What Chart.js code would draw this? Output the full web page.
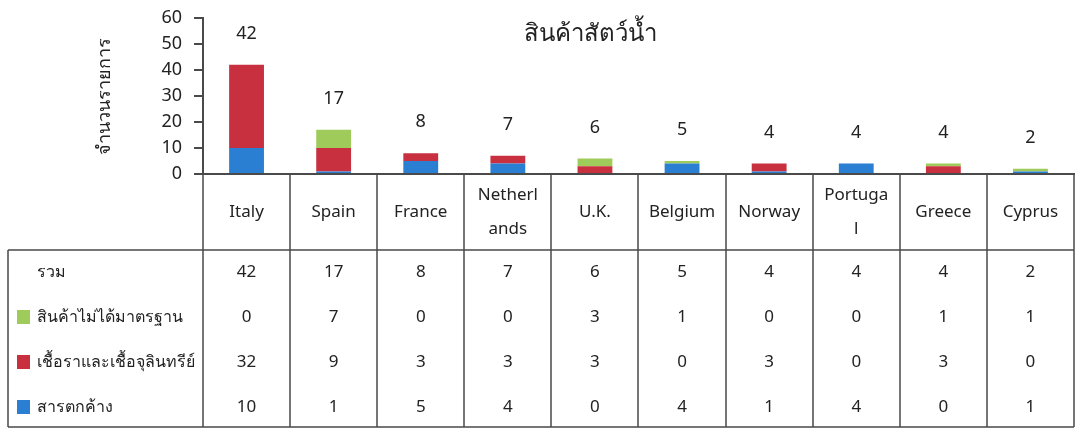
<!DOCTYPE html>
<html>
<head>
<meta charset="utf-8">
<script src="https://cdn.jsdelivr.net/npm/chart.js@4/dist/chart.umd.min.js"></script>
<style>
  body { margin: 0; background: #fff; }
  #wrap { width: 1076px; height: 429px; }
</style>
</head>
<body>
<div id="wrap"><canvas id="c" width="1076" height="429"></canvas></div>
<script>
const categories = [["Italy"], ["Spain"], ["France"], ["Netherl", "ands"], ["U.K."], ["Belgium"], ["Norway"], ["Portuga", "l"], ["Greece"], ["Cyprus"]];
const residue = [10, 1, 5, 4, 0, 4, 1, 4, 0, 1];       // สารตกค้าง
const microbe = [32, 9, 3, 3, 3, 0, 3, 0, 3, 0];       // เชื้อราและเชื้อจุลินทรีย์
const substandard = [0, 7, 0, 0, 3, 1, 0, 0, 1, 1];   // สินค้าไม่ได้มาตรฐาน
const totals = [42, 17, 8, 7, 6, 5, 4, 4, 4, 2];
const yTicks = [0, 10, 20, 30, 40, 50, 60];
const chartTitle = "สินค้าสัตว์น้ำ";

const BLUE = "#2b7fd3";
const RED = "#c8303f";
const GREEN = "#9fcb5a";
const LINE = "#4a4a4a";
const FONT = "'Noto Sans', 'Liberation Sans', sans-serif";

const tableRows = [
  { label: "รวม", color: null, values: totals },
  { label: "สินค้าไม่ได้มาตรฐาน", color: GREEN, values: substandard },
  { label: "เชื้อราและเชื้อจุลินทรีย์", color: RED, values: microbe },
  { label: "สารตกค้าง", color: BLUE, values: residue },
];

const tablePlugin = {
  id: "tablePlugin",
  afterDraw(chart) {
    const ctx = chart.ctx;
    const x = chart.scales.x;
    const y = chart.scales.y;
    const axisY = y.getPixelForValue(0);
    const step = x.getPixelForValue(1) - x.getPixelForValue(0);
    const left = x.getPixelForValue(0) - step / 2;
    const right = x.getPixelForValue(categories.length - 1) + step / 2;
    const catBottom = 250;
    const tableBottom = 427;
    const tableLeft = 8;

    ctx.save();
    ctx.textAlign = "center";
    ctx.textBaseline = "middle";

    // title
    ctx.fillStyle = "#222";
    ctx.font = "24px " + FONT;
    ctx.fillText(chartTitle, 590, 34);

    // totals above bars
    ctx.font = "18px " + FONT;
    totals.forEach((t, i) => {
      ctx.fillText(String(t), x.getPixelForValue(i), y.getPixelForValue(t) - 31);
    });

    // grid lines
    ctx.strokeStyle = LINE;
    ctx.lineWidth = 1.5;
    ctx.beginPath();
    for (let i = 0; i <= categories.length; i++) {
      const px = Math.round(left + i * step);
      ctx.moveTo(px, axisY);
      ctx.lineTo(px, tableBottom);
    }
    ctx.moveTo(tableLeft, catBottom);
    ctx.lineTo(right, catBottom);
    ctx.moveTo(tableLeft, tableBottom);
    ctx.lineTo(right, tableBottom);
    ctx.moveTo(tableLeft, catBottom);
    ctx.lineTo(tableLeft, tableBottom);
    ctx.stroke();

    // category labels
    ctx.fillStyle = "#222";
    ctx.font = "17px " + FONT;
    categories.forEach((lines, i) => {
      const cx = x.getPixelForValue(i);
      const mid = (axisY + catBottom) / 2;
      if (lines.length === 1) {
        ctx.fillText(lines[0], cx, mid);
      } else {
        ctx.fillText(lines[0], cx, mid - 17);
        ctx.fillText(lines[1], cx, mid + 17);
      }
    });

    // data rows
    const rowY = [272, 317, 362, 407];
    tableRows.forEach((row, r) => {
      const ry = rowY[r];
      ctx.textAlign = "left";
      if (row.color) {
        ctx.fillStyle = row.color;
        ctx.fillRect(17, ry - 7, 13, 14);
      }
      ctx.fillStyle = "#222";
      ctx.font = "16px " + FONT;
      ctx.fillText(row.label, 37, ry);
      ctx.font = "17px " + FONT;
      ctx.textAlign = "center";
      row.values.forEach((v, i) => {
        ctx.fillText(String(v), x.getPixelForValue(i), ry);
      });
    });
    ctx.restore();
  }
};

new Chart(document.getElementById("c"), {
  type: "bar",
  data: {
    labels: categories.map(l => l.join("")),
    datasets: [
      { label: "สารตกค้าง", data: residue, backgroundColor: BLUE },
      { label: "เชื้อราและเชื้อจุลินทรีย์", data: microbe, backgroundColor: RED },
      { label: "สินค้าไม่ได้มาตรฐาน", data: substandard, backgroundColor: GREEN },
    ],
  },
  options: {
    responsive: false,
    animation: false,
    devicePixelRatio: 1,
    layout: { padding: { left: 0, top: 18, right: 2, bottom: 255 } },
    datasets: { bar: { barPercentage: 0.4, categoryPercentage: 1 } },
    plugins: {
      legend: { display: false },
      tooltip: { enabled: false },
      title: { display: false },
    },
    scales: {
      x: {
        stacked: true,
        ticks: { display: false },
        grid: { display: false },
        border: { display: true, color: LINE, width: 2 },
        afterFit(scale) { scale.height = 0; },
      },
      y: {
        stacked: true,
        min: 0,
        max: 60,
        afterBuildTicks(scale) { scale.ticks = yTicks.map(v => ({ value: v })); },
        ticks: { color: "#222", font: { family: FONT, size: 18 }, padding: 12, autoSkip: false },
        grid: { drawOnChartArea: false, drawTicks: true, tickLength: 9, color: LINE, lineWidth: 2 },
        border: { display: true, color: LINE, width: 2 },
        title: {
          display: true,
          text: "จำนวนรายการ",
          color: "#222",
          font: { family: FONT, size: 18 },
          padding: { top: 94, bottom: 0 },
        },
        afterFit(scale) {
          scale.width = 203;
          scale.paddingTop = 0;
          scale.paddingBottom = 0;
        },
      },
    },
  },
  plugins: [tablePlugin],
});
</script>
</body>
</html>
